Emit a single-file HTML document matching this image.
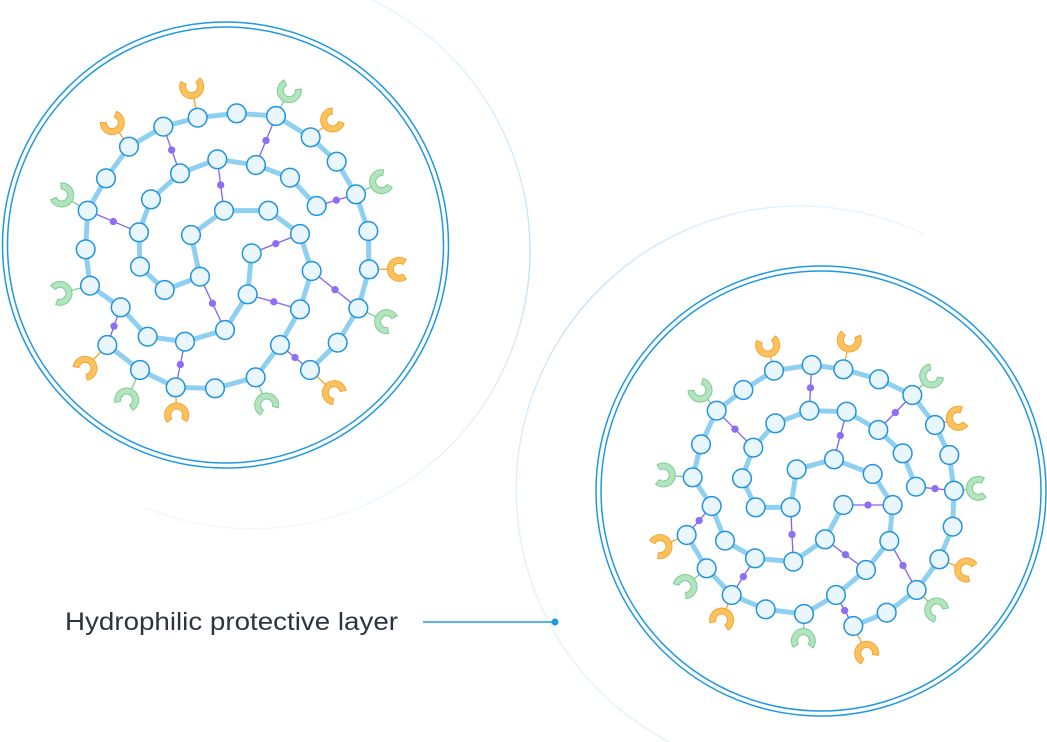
<!DOCTYPE html>
<html><head><meta charset="utf-8"><style>
html,body{margin:0;padding:0;background:#fff;width:1047px;height:742px;overflow:hidden}
svg{display:block}
</style></head><body>
<svg id="s" width="1047" height="742" viewBox="0 0 1047 742" xmlns="http://www.w3.org/2000/svg">
<defs>
<linearGradient id="g1" x1="0" y1="0" x2="0" y2="1"><stop offset="0" stop-color="#cfe8fa" stop-opacity="0.5"/><stop offset="0.5" stop-color="#bfe0f8"/><stop offset="1" stop-color="#d8ecfa" stop-opacity="0.4"/></linearGradient>
<linearGradient id="g2" x1="1" y1="0" x2="0" y2="1"><stop offset="0" stop-color="#d8ecfa" stop-opacity="0.4"/><stop offset="0.5" stop-color="#bfe0f8"/><stop offset="1" stop-color="#d8ecfa" stop-opacity="0.4"/></linearGradient>
</defs>
<path d="M349.6,-9.5 A278,278 0 1 1 146,507.8" fill="none" stroke="url(#g1)" stroke-width="1.3"/>
<path d="M924.5,234.7 A284,284 0 1 0 736,766.7" fill="none" stroke="url(#g2)" stroke-width="1.3"/>
<circle cx="225.5" cy="245" r="223" fill="none" stroke="#1f98e3" stroke-width="1.5"/>
<circle cx="225.5" cy="245" r="218" fill="none" stroke="#1f98e3" stroke-width="1.5"/>
<circle cx="821" cy="491" r="225" fill="none" stroke="#1f98e3" stroke-width="1.5"/>
<circle cx="821" cy="491" r="220" fill="none" stroke="#1f98e3" stroke-width="1.5"/>
<g id="c1" transform="translate(0,60) scale(0.33333)"></g>
<g id="c2" transform="translate(630,320) scale(0.33333)"></g>
<text x="65" y="630" font-family="Liberation Sans, sans-serif" font-size="25" fill="#2d3440" textLength="333" lengthAdjust="spacingAndGlyphs">Hydrophilic protective layer</text>
<line x1="423" y1="622" x2="555" y2="622" stroke="#1f98e3" stroke-width="1.5"/>
<circle cx="555" cy="622" r="3.5" fill="#1f98e3"/>
</svg>
<script>
var NS="http://www.w3.org/2000/svg";
function el(p,t,a){var e=document.createElementNS(NS,t);for(var k in a)e.setAttribute(k,a[k]);p.appendChild(e);return e;}
function cup(g,c,n,col){
  var dx=c[0]-n[0],dy=c[1]-n[1],L=Math.hypot(dx,dy),ux=dx/L,uy=dy/L;
  var R=36,r=18,a0=Math.atan2(uy,ux),gap=0.95;
  var fill=col=='o'?'#fcc25e':'#b3e4bf',st=col=='o'?'#f4a534':'#7ccd93';
  el(g,'line',{x1:n[0]+ux*28,y1:n[1]+uy*28,x2:c[0]-ux*R,y2:c[1]-uy*R,stroke:st,'stroke-width':4});
  var s=a0+gap,e=a0+2*Math.PI-gap;
  function p(rad,a){return (c[0]+rad*Math.cos(a)).toFixed(1)+','+(c[1]+rad*Math.sin(a)).toFixed(1);}
  var d='M'+p(R,s)+' A'+R+','+R+' 0 1 1 '+p(R,e)+' L'+p(r,e)+' A'+r+','+r+' 0 1 0 '+p(r,s)+' Z';
  el(g,'path',{d:d,fill:fill,stroke:st,'stroke-width':3,'stroke-linejoin':'round'});
}
function build(id,chains,links,cups){
  var g=document.getElementById(id);
  var nodes={};
  chains.forEach(function(ch){
    var pts=ch.map(function(p){return p.join(',')}).join(' ');
    el(g,'polyline',{points:pts,fill:'none',stroke:'#8fd0f1','stroke-width':15,'stroke-linejoin':'round'});
    ch.forEach(function(p){nodes[p.join(',')]=p;});
  });
  links.forEach(function(l){
    el(g,'line',{x1:l[0][0],y1:l[0][1],x2:l[1][0],y2:l[1][1],stroke:'#8366ee','stroke-width':4});
    nodes[l[0].join(',')]=l[0];nodes[l[1].join(',')]=l[1];
  });
  cups.forEach(function(c){cup(g,c[0],c[1],c[2]);});
  links.forEach(function(l){
    el(g,'circle',{cx:(l[0][0]+l[1][0])/2,cy:(l[0][1]+l[1][1])/2,r:11,fill:'#8c6ff5'});
  });
  for(var k in nodes){var p=nodes[k];
    el(g,'circle',{cx:p[0],cy:p[1],r:28,fill:'#eaf6fe',stroke:'#2094e0','stroke-width':4.5});}
}
build('c1',
[
 [[322,855],[420,930],[527,982],[645,985],[767,952],[840,855],[900,748],[935,633],[900,522],[805,452],[672,452],[573,525],[600,650],[494,690],[420,620],[417,517],[453,418],[540,340],[652,298],[768,315],[870,353],[950,438]],
 [[755,580],[743,703],[675,810],[555,845],[443,830],[362,742],[270,677],[257,568],[263,452],[318,355],[387,260],[490,200],[593,173],[710,160],[828,168],[932,232],[1010,305],[1068,403],[1105,513],[1107,628],[1075,745],[1013,848],[930,930]]
],
[
 [[490,200],[540,340]],[[828,168],[768,315]],[[652,298],[672,452]],[[263,452],[417,517]],
 [[950,438],[1068,403]],[[755,580],[900,522]],[[935,633],[1075,745]],[[743,703],[900,748]],
 [[600,650],[675,810]],[[362,742],[322,855]],[[555,845],[527,982]],[[840,855],[930,930]]
],
[
 [[575,80],[593,173],'o'],[[868,92],[828,168],'g'],[[998,180],[932,232],'o'],[[1145,365],[1068,403],'g'],
 [[1198,628],[1107,628],'o'],[[1160,785],[1075,745],'g'],[[1003,998],[930,930],'o'],[[800,1035],[767,952],'g'],
 [[530,1065],[527,982],'o'],[[380,1020],[420,930],'g'],[[255,925],[322,855],'o'],[[180,700],[270,677],'g'],
 [[185,405],[263,452],'g'],[[337,188],[387,260],'o']
]);
build('c2',
[
 [[670,918],[770,878],[860,810],[928,718],[968,620],[972,512],[958,405],[915,315],[847,225],[747,178],[640,148],[545,135],[432,152],[340,210],[260,272],[213,373],[188,472],[245,558],[285,662],[375,715],[490,725],[585,658],[640,555]],
 [[170,645],[230,745],[305,825],[407,868],[522,882],[618,825],[708,750],[778,663],[788,555],[728,462],[612,418],[500,448],[482,562],[377,562],[336,475],[370,383],[436,310],[538,272],[650,275],[745,330],[818,400],[858,500]]
],
[
 [[545,135],[538,272]],[[847,225],[745,330]],[[650,275],[612,418]],[[260,272],[370,383]],
 [[858,500],[972,512]],[[640,555],[788,555]],[[482,562],[490,725]],[[585,658],[708,750]],
 [[778,663],[860,810]],[[245,558],[170,645]],[[375,715],[305,825]],[[618,825],[670,918]]
],
[
 [[413,75],[432,152],'o'],[[658,60],[640,148],'o'],[[905,168],[847,225],'g'],[[985,295],[915,315],'o'],
 [[1045,505],[972,512],'g'],[[1010,750],[928,718],'o'],[[920,870],[860,810],'g'],[[710,1000],[670,918],'o'],
 [[520,962],[522,882],'g'],[[275,900],[305,825],'o'],[[165,800],[230,745],'g'],[[90,680],[170,645],'o'],
 [[100,465],[188,472],'g'],[[210,210],[260,272],'g']
]);
</script>
</body></html>
